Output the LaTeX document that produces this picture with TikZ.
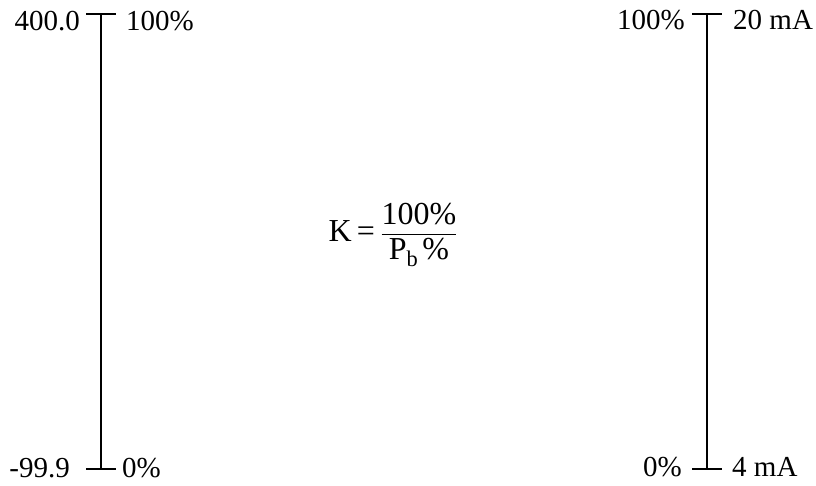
\documentclass[tikz,border=0pt]{standalone}
\usepackage{amsmath}
\usepackage{fontspec}
\setmainfont{Liberation Serif}
\usetikzlibrary{positioning}

\begin{document}
\begin{tikzpicture}[x=1pt,y=1pt,
        scaleline/.style={line width=1.4pt},
        scalelabel/.style={inner sep=0pt,font=\fontsize{29}{33}\selectfont}]
        \useasboundingbox (0,0) rectangle (816,486);

        % left scale
        \coordinate (ltop) at (101,472);
        \coordinate (lbot) at (101,17);
        \draw[scaleline] (ltop) -- (lbot);
        \draw[scaleline] ([xshift=-15pt]ltop) -- ([xshift=15pt]ltop);
        \draw[scaleline] ([xshift=-15pt]lbot) -- ([xshift=15pt]lbot);
        \node[scalelabel,anchor=base east] (lmax) at (80,455) {400.0};
        \node[scalelabel,anchor=base west] (lmaxpc) at (126,455) {100\%};
        \node[scalelabel,anchor=base east] (lmin) at (70,8) {-99.9};
        \node[scalelabel,anchor=base west] (lminpc) at (122,8) {0\%};

        % right scale
        \coordinate (rtop) at (707,472);
        \coordinate (rbot) at (707,17);
        \draw[scaleline] (rtop) -- (rbot);
        \draw[scaleline] ([xshift=-15pt]rtop) -- ([xshift=15pt]rtop);
        \draw[scaleline] ([xshift=-15pt]rbot) -- ([xshift=15pt]rbot);
        \node[scalelabel,anchor=base east] (rmaxpc) at (685,456) {100\%};
        \node[scalelabel,anchor=base west] (rmax) at (733,456) {20 mA};
        \node[scalelabel,anchor=base east] (rminpc) at (682,9) {0\%};
        \node[scalelabel,anchor=base west] (rmin) at (732,9) {4 mA};

        % gain
        \node[scalelabel,font=\fontsize{32}{36}\selectfont] (gain) at (393,251)
            {K\,=\,$\dfrac{\text{100\%}}{\text{P}_{\text{b}}\,\text{\%}}$};
\end{tikzpicture}
\end{document}
